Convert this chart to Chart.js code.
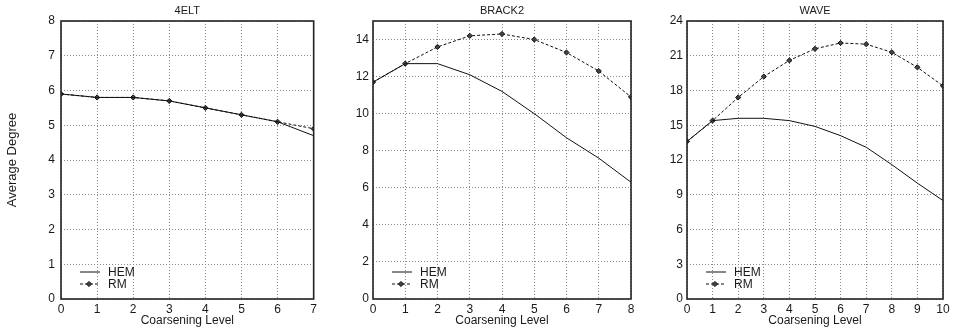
<!DOCTYPE html>
<html>
<head>
<meta charset="utf-8">
<script src="https://cdn.jsdelivr.net/npm/chart.js@4/dist/chart.umd.min.js"></script>
<style>
  html, body { margin: 0; padding: 0; background: #fff; }
  #wrap { position: relative; width: 956px; height: 334px; }
  #wrap canvas { position: absolute; top: 0; }
</style>
</head>
<body>
<div id="wrap">
  <canvas id="c4elt" width="320" height="334" style="left:0px"></canvas>
  <canvas id="cbrack2" width="318" height="334" style="left:320px"></canvas>
  <canvas id="cwave" width="320" height="334" style="left:636px"></canvas>
</div>
<script>
// valores
const levels4elt = [0, 1, 2, 3, 4, 5, 6, 7];
const hem4elt = [5.9, 5.8, 5.8, 5.7, 5.5, 5.3, 5.1, 4.7];
const rm4elt = [5.9, 5.8, 5.8, 5.7, 5.5, 5.3, 5.1, 4.9];

const levelsBrack2 = [0, 1, 2, 3, 4, 5, 6, 7, 8];
const hemBrack2 = [11.7, 12.7, 12.7, 12.1, 11.2, 10.0, 8.7, 7.6, 6.3];
const rmBrack2 = [11.7, 12.7, 13.6, 14.2, 14.3, 14.0, 13.3, 12.3, 10.9];

const levelsWave = [0, 1, 2, 3, 4, 5, 6, 7, 8, 9, 10];
const hemWave = [13.6, 15.4, 15.6, 15.6, 15.4, 14.9, 14.1, 13.1, 11.6, 10.0, 8.5];
const rmWave = [13.6, 15.4, 17.4, 19.2, 20.6, 21.6, 22.1, 22.0, 21.3, 20.0, 18.4];

const seriesNames = ['HEM', 'RM'];
const xTitle = 'Coarsening Level';
const yTitle = 'Average Degree';

const FONT = "'Liberation Sans', Arial, Helvetica, sans-serif";
const TEXT = '#1a1a1a';

// ── Moldura, título e legenda ───────────────────────────────

const framePlugin = {
  id: 'frame',
  afterDatasetsDraw(chart, args, opts) {
    const { ctx, chartArea: a } = chart;
    ctx.save();
    ctx.strokeStyle = '#222';
    ctx.lineWidth = 1.6;
    ctx.strokeRect(a.left, a.top, a.right - a.left, a.bottom - a.top);

    // título centrado sobre a área do gráfico
    ctx.fillStyle = TEXT;
    ctx.font = `11px ${FONT}`;
    ctx.textAlign = 'center';
    ctx.textBaseline = 'middle';
    ctx.fillText(opts.title, (a.left + a.right) / 2, 11);

    // legenda no canto inferior esquerdo
    ctx.textAlign = 'left';
    const rows = [a.bottom - 27, a.bottom - 15];
    chart.data.datasets.forEach((ds, i) => {
      const y = rows[i];
      ctx.strokeStyle = ds.borderColor;
      ctx.lineWidth = 1;
      ctx.setLineDash(ds.borderDash || []);
      ctx.beginPath();
      ctx.moveTo(a.left + 19, y);
      ctx.lineTo(a.left + 39, y);
      ctx.stroke();
      ctx.setLineDash([]);
      if (ds.pointRadius > 0) {
        const x = a.left + 28, r = 2.6;
        ctx.fillStyle = ds.pointBackgroundColor;
        ctx.beginPath();
        ctx.moveTo(x, y - r); ctx.lineTo(x + r, y);
        ctx.lineTo(x, y + r); ctx.lineTo(x - r, y);
        ctx.closePath();
        ctx.fill();
        ctx.stroke();
      }
      ctx.fillStyle = TEXT;
      ctx.font = `12px ${FONT}`;
      ctx.fillText(ds.label, a.left + 47, y + 1);
    });
    ctx.restore();
  },
};

function toPoints(xs, ys) {
  return ys.map((y, i) => ({ x: xs[i], y }));
}

function makePanel(id, cfg) {
  const ctx = document.getElementById(id);
  return new Chart(ctx, {
    type: 'line',
    data: {
      datasets: [
        {
          label: seriesNames[0],
          data: toPoints(cfg.levels, cfg.hem),
          borderColor: '#111',
          borderWidth: 1,
          pointRadius: 0,
          tension: 0,
        },
        {
          label: seriesNames[1],
          data: toPoints(cfg.levels, cfg.rm),
          borderColor: '#111',
          borderWidth: 1,
          borderDash: [3, 2],
          pointStyle: 'rectRot',
          pointRadius: 2.6,
          pointBackgroundColor: '#444',
          pointBorderColor: '#111',
          pointBorderWidth: 1,
          tension: 0,
        },
      ],
    },
    options: {
      responsive: false,
      animation: false,
      layout: { padding: { top: 21, right: cfg.padRight, left: 0, bottom: 0 } },
      plugins: {
        legend: { display: false },
        tooltip: { enabled: false },
        title: { display: false },
        frame: { title: cfg.title },
      },
      scales: {
        x: {
          type: 'linear',
          min: 0,
          max: cfg.levels[cfg.levels.length - 1],
          afterFit: (s) => { s.height = 35; },
          ticks: {
            stepSize: 1,
            color: TEXT,
            padding: 3,
            maxRotation: 0,
            font: { family: FONT, size: 12 },
          },
          grid: { color: '#8a8a8a', lineWidth: 1, drawTicks: false },
          border: { display: false, dash: [1, 2] },
          title: {
            display: true,
            text: xTitle,
            color: TEXT,
            font: { family: FONT, size: 12 },
            padding: { top: 0, bottom: 6 },
          },
        },
        y: {
          min: 0,
          max: cfg.yMax,
          afterFit: (s) => { s.width = cfg.plotLeft; },
          ticks: {
            stepSize: cfg.yStep,
            includeBounds: false,
            color: TEXT,
            padding: cfg.tickPad,
            font: { family: FONT, size: 12 },
          },
          grid: { color: '#8a8a8a', lineWidth: 1, drawTicks: false },
          border: { display: false, dash: [1, 2] },
          title: {
            display: cfg.showYTitle,
            text: yTitle,
            color: TEXT,
            font: { family: FONT, size: 13 },
            padding: { top: 5, bottom: 0 },
          },
        },
      },
    },
    plugins: [framePlugin],
  });
}

makePanel('c4elt', {
  title: '4ELT', levels: levels4elt, hem: hem4elt, rm: rm4elt,
  yMax: 8, yStep: 1, plotLeft: 61, padRight: 4, tickPad: 6, showYTitle: true,
});
makePanel('cbrack2', {
  title: 'BRACK2', levels: levelsBrack2, hem: hemBrack2, rm: rmBrack2,
  yMax: 15, yStep: 2, plotLeft: 53, padRight: 7, tickPad: 4, showYTitle: false,
});
makePanel('cwave', {
  title: 'WAVE', levels: levelsWave, hem: hemWave, rm: rmWave,
  yMax: 24, yStep: 3, plotLeft: 51, padRight: 13, tickPad: 4, showYTitle: false,
});
</script>
</body>
</html>
